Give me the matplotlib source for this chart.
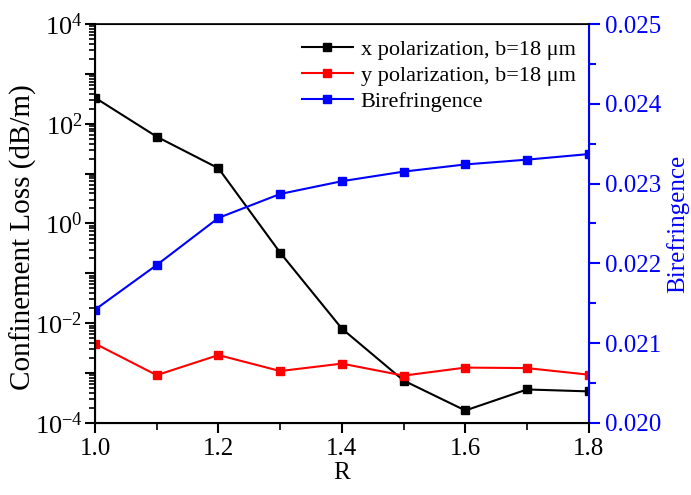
import matplotlib.pyplot as plt
from matplotlib.ticker import LogLocator, MultipleLocator, FuncFormatter, NullFormatter
import numpy as np

plt.rcParams['font.family'] = ['Liberation Serif', 'DejaVu Serif']
plt.rcParams['mathtext.fontset'] = 'custom'
plt.rcParams['mathtext.rm'] = 'Liberation Serif'
plt.rcParams['mathtext.it'] = 'Liberation Serif:italic'
plt.rcParams['mathtext.bf'] = 'Liberation Serif:bold'

R = [1.0, 1.1, 1.2, 1.3, 1.4, 1.5, 1.6, 1.7, 1.8]
loss_x = [333, 55, 12.8, 0.26, 0.0078, 7.1e-4, 1.78e-4, 4.7e-4, 4.3e-4]
loss_y = [3.9e-3, 9.1e-4, 2.3e-3, 1.1e-3, 1.55e-3, 8.9e-4, 1.29e-3, 1.26e-3, 9.3e-4]
biref = [0.02142, 0.02198, 0.02257, 0.02287, 0.02303, 0.02315, 0.02324, 0.02330, 0.02337]

blue = '#0000ff'

fig = plt.figure(figsize=(6.91, 4.95), dpi=100)
ax = fig.add_axes([0.1375, 0.1455, 0.7145, 0.806])
ax2 = ax.twinx()

l1, = ax.plot(R, loss_x, '-s', color='black', lw=1.5, ms=6,
              label='x polarization, b=18 \u03bcm')
l2, = ax.plot(R, loss_y, '-s', color='red', lw=1.5, ms=6,
              label='y polarization, b=18 \u03bcm')
l3, = ax2.plot(R, biref, '-s', color=blue, lw=1.5, ms=6, label='Birefringence')

ax.set_yscale('log')
ax.set_ylim(1e-4, 1e4)
ax.set_xlim(1.0, 1.8)
ax.xaxis.set_major_locator(MultipleLocator(0.2))
ax.xaxis.set_minor_locator(MultipleLocator(0.1))
ax.xaxis.set_major_formatter(FuncFormatter(lambda v, p: f'{v:.1f}'))

ax.yaxis.set_major_locator(LogLocator(base=10, numticks=20))
ax.yaxis.set_minor_locator(LogLocator(base=10, subs=np.arange(2, 10), numticks=20))
ax.yaxis.set_minor_formatter(NullFormatter())


def dec_label(v, pos):
    e = int(round(np.log10(v)))
    if e % 2:
        return ''
    return r'$\mathregular{10^{%d}}$' % e


ax.yaxis.set_major_formatter(FuncFormatter(dec_label))

ax2.set_ylim(0.020, 0.025)
ax2.yaxis.set_major_locator(MultipleLocator(0.001))
ax2.yaxis.set_minor_locator(MultipleLocator(0.0005))
ax2.yaxis.set_major_formatter(FuncFormatter(lambda v, p: f'{v:.3f}'))

ax.tick_params(axis='both', which='major', direction='out', length=7, width=1.5,
               labelsize=18, right=False, top=False)
ax.tick_params(axis='y', which='major', labelsize=19, pad=2)
ax.tick_params(axis='both', which='minor', direction='out', length=4, width=1.2,
               right=False, top=False)
ax.tick_params(axis='x', which='minor', length=5)
ax2.tick_params(axis='y', which='major', direction='out', length=8, width=1.5,
                labelsize=18, colors=blue)
ax2.tick_params(axis='y', which='minor', direction='out', length=5, width=1.5,
                colors=blue)

for s in ['left', 'bottom', 'top']:
    ax2.spines[s].set_linewidth(1.5)
ax2.spines['right'].set_color(blue)
ax2.spines['right'].set_linewidth(1.5)
ax2.spines['top'].set_linewidth(1.2)

ax.set_xlabel('R', fontsize=18, labelpad=2)
ax.set_ylabel('Confinement Loss (dB/m)', fontsize=21)
ax.yaxis.set_label_coords(-0.118, 0.465)
ax2.set_ylabel('Birefringence', fontsize=18, color=blue, labelpad=4)

ax.legend(handles=[l1, l2, l3], loc='upper right', frameon=False, fontsize=16,
          handlelength=2.3, handletextpad=0.35, labelspacing=0.25,
          bbox_to_anchor=(1.0, 0.995), borderaxespad=0.2)

fig.savefig('out.png', dpi=100)
